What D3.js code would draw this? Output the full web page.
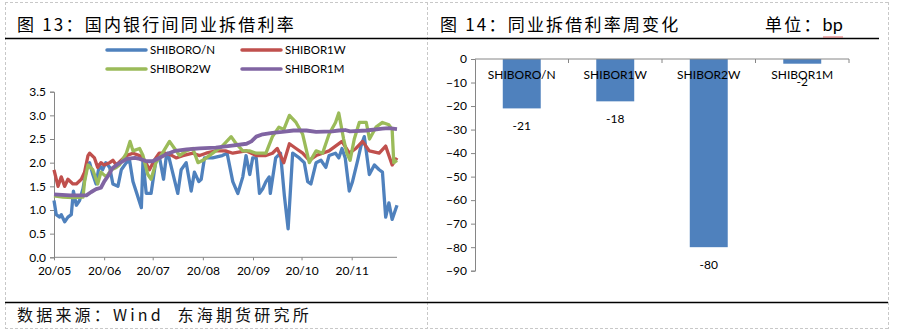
<!DOCTYPE html>
<html><head><meta charset="utf-8">
<script src="https://cdn.jsdelivr.net/npm/d3@7"></script>
<style>
body{margin:0;background:#fff;}
svg{display:block;}
</style></head>
<body>
<svg id="c" width="899" height="335"></svg>
<script>
// ---------- DATA ----------
const startDate = "2020-05-01";
const endDate = "2020-11-29";
const xTickDates = ["2020-05-01","2020-06-01","2020-07-01","2020-08-01","2020-09-01","2020-10-01","2020-11-01"];
const lineNames = ["SHIBORO/N","SHIBOR1W","SHIBOR2W","SHIBOR1M"];
const yTicksLeft = [0,0.5,1,1.5,2,2.5,3,3.5];
// [days since start, value]
const shiborON = [[0,1.2],[1.4,0.9],[3.5,0.85],[4.5,0.9],[6.6,0.75],[8.6,0.85],[10.7,0.9],[12,1.4],[13.8,1.1],[15.8,1.2],[17.9,1.45],[20,1.85],[22,2.0],[24,1.75],[26,1.55],[28,1.95],[30,1.85],[32,2.0],[34.4,1.9],[36.4,1.55],[39.5,1.5],[41.6,1.85],[44.7,2.0],[46.7,2.05],[48.8,1.6],[54,1.05],[55,2.05],[57,1.35],[60,1.35],[63,2.05],[65,2.15],[67.7,1.65],[69.3,2.1],[70.4,2.2],[76.5,1.35],[78.6,1.85],[81.7,2.0],[84.8,1.4],[86.8,1.8],[89.5,1.6],[91,1.65],[93,2.1],[98,2.1],[104,2.15],[107,2.2],[110.5,1.6],[113.6,1.35],[116.7,1.7],[118.7,2.15],[121,1.75],[122.8,2.1],[125,2.1],[127,1.35],[129,1.45],[131,1.6],[133,1.7],[133.7,1.35],[137,2.1],[140,2.2],[142.4,1.3],[144.7,0.6],[147.5,2.2],[151.6,2.1],[154.7,2.0],[156.8,1.6],[158.8,1.55],[162,2.0],[165,2.05],[168,1.9],[170,2.15],[174,2.2],[176,2.1],[178,2.3],[180,2.1],[182.5,1.4],[184.5,1.6],[187.7,2.05],[189.7,2.35],[191.8,2.55],[194.9,1.75],[198,1.95],[201,1.85],[203,1.8],[205,0.85],[207,1.15],[209,0.8],[212,1.1]];
const shibor1W = [[0,1.85],[2.5,1.5],[4.5,1.7],[6.6,1.5],[8.6,1.65],[11.7,1.55],[13.8,1.55],[16.9,1.65],[18.9,1.8],[21,2.15],[22,2.2],[25,2.1],[27,1.9],[29,2.0],[30.9,1.95],[34.4,2.0],[36.4,2.05],[38.5,1.95],[41.6,2.05],[44.7,2.15],[48.8,2.2],[52.9,2.15],[56,2.05],[59,1.85],[62,2.05],[65,2.2],[69,2.2],[73,2.15],[75.5,2.1],[79.6,2.15],[85.8,2.2],[90,2.15],[94,2.2],[100,2.25],[106,2.25],[110.5,2.2],[118.7,2.25],[125,2.15],[131,2.15],[135,2.2],[138,2.3],[142,2.0],[145.5,2.4],[149.6,2.3],[153.7,2.2],[157.8,2.05],[162,2.15],[166,2.2],[170,2.25],[174,2.35],[178,2.45],[182.5,2.2],[186.6,2.3],[190.7,2.45],[194.9,2.25],[201,2.2],[205,2.35],[209,1.95],[212,2.1]];
const shibor2W = [[0,1.3],[5.6,1.27],[11.7,1.26],[17.9,1.27],[18.9,1.6],[21,1.95],[24,1.85],[27,1.55],[29,1.8],[32.3,1.7],[35.4,1.85],[38.5,1.9],[40.5,1.95],[44.7,2.2],[47,2.45],[48.8,2.25],[52.9,2.3],[55,2.15],[58,1.75],[60,1.65],[63,2.0],[67,2.2],[71.4,2.45],[74.5,2.3],[77.6,2.15],[81.7,2.25],[85.8,2.3],[89,2.0],[92,2.05],[96,2.15],[100,2.25],[104,2.35],[109.5,2.55],[112.6,2.4],[116.7,2.25],[120.8,2.25],[125,2.2],[131,2.2],[135,2.55],[139,2.75],[142,2.7],[145.5,3.0],[149.6,2.85],[153.7,2.6],[157.8,2.0],[162,2.25],[166,2.2],[170,2.6],[174,2.85],[176,3.05],[179,2.5],[181,2.2],[183,2.05],[185.6,2.5],[188.7,2.85],[193,2.85],[195,2.5],[199,2.75],[203,2.85],[207,2.8],[209,2.7],[210,2.0],[212,2.05]];
const shibor1M = [[0,1.33],[10,1.31],[20,1.31],[23,1.38],[26,1.44],[29,1.47],[31,1.6],[34,1.75],[36,1.88],[40,1.98],[45,2.08],[50,2.1],[53,2.08],[57,2.03],[61,2.03],[65,2.1],[69,2.17],[75,2.25],[82,2.28],[90,2.3],[100,2.32],[110,2.36],[119,2.4],[122,2.45],[125,2.55],[129,2.6],[135,2.63],[141,2.65],[148,2.68],[156,2.68],[162,2.65],[172,2.66],[176,2.68],[180,2.69],[183,2.66],[193,2.68],[203,2.72],[207,2.73],[212,2.71]];
const lineColors = ["#4F81BD","#C0504D","#9BBB59","#8064A2"];

const barCategories = ["SHIBORO/N","SHIBOR1W","SHIBOR2W","SHIBOR1M"];
const barValues = [-21,-18,-80,-2];
const yTicksRight = [0,-10,-20,-30,-40,-50,-60,-70,-80,-90];

const title1 = "图 13：国内银行间同业拆借利率";
const title2 = "图 14：同业拆借利率周变化";
const unitText = "单位：";
const unitBp = "bp";
const sourceText = "数据来源：Wind  东海期货研究所";

// ---------- DRAW ----------
const svg = d3.select("#c");
const CJK = "'Noto Sans CJK SC', sans-serif";
const LAT = "Lato, 'Liberation Sans', sans-serif";
const AX = "#868686";

// panel borders (dashed)
const dash = svg.append("g").attr("stroke","#c8c8c8").attr("stroke-dasharray","3,2").attr("fill","none");
dash.append("line").attr("x1",5).attr("x2",888).attr("y1",2.5).attr("y2",2.5);
dash.append("line").attr("x1",5).attr("x2",888).attr("y1",328.5).attr("y2",328.5);
[5.5,427.5,888.5].forEach(x=>dash.append("line").attr("x1",x).attr("x2",x).attr("y1",2).attr("y2",329));

// solid black rules
svg.append("line").attr("x1",5).attr("x2",879).attr("y1",38.5).attr("y2",38.5).attr("stroke","#000").attr("stroke-width",1.3);
svg.append("line").attr("x1",5).attr("x2",888).attr("y1",302.5).attr("y2",302.5).attr("stroke","#000").attr("stroke-width",1.3);

// titles
svg.append("text").attr("x",17).attr("y",31).attr("font-family",CJK).attr("font-size",17).attr("letter-spacing",2.2).attr("fill","#000").text(title1);
svg.append("text").attr("x",440).attr("y",31).attr("font-family",CJK).attr("font-size",17).attr("letter-spacing",2.2).attr("fill","#000").text(title2);
const ut = svg.append("text").attr("x",765).attr("y",31).attr("font-family",CJK).attr("font-size",17).attr("letter-spacing",2.2).attr("fill","#000");
ut.append("tspan").text(unitText);
ut.append("tspan").attr("font-family",LAT).attr("letter-spacing",0).attr("font-size",18).text(unitBp);
// spell-check squiggle under bp
(function(){
  const pts=[]; for(let x=823;x<=844;x+=2){pts.push([x,(x/2)%2===0?35:37]);}
  svg.append("path").attr("d",d3.line()(pts)).attr("stroke","#d04040").attr("stroke-width",0.8).attr("fill","none");
})();

// source
svg.append("text").attr("x",17).attr("y",321).attr("font-family",CJK).attr("font-size",16).attr("letter-spacing",3.2).attr("fill","#111").style("white-space","pre").text(sourceText);

// ---------- LEFT LINE CHART ----------
const parse = d3.timeParse("%Y-%m-%d");
const t0 = parse(startDate), t1 = parse(endDate);
const x = d3.scaleTime().domain([t0,t1]).range([54,397]);
const y = d3.scaleLinear().domain([0,3.5]).range([257.3,91.7]);
const toDate = d => new Date(t0.getTime()+d*864e5);

const gy = svg.append("g").attr("transform","translate(54,0)")
  .call(d3.axisLeft(y).tickValues(yTicksLeft).tickFormat(d3.format(".1f")).tickSize(4).tickPadding(4));
const gx = svg.append("g").attr("transform","translate(0,257.3)")
  .call(d3.axisBottom(x).tickValues(xTickDates.map(parse)).tickFormat(d3.timeFormat("%y/%m")).tickSize(3).tickPadding(6));
[gy,gx].forEach(g=>{
  g.select(".domain").attr("stroke",AX);
  g.selectAll(".tick line").attr("stroke",AX);
  g.selectAll("text").attr("font-family",LAT).attr("font-size",12).attr("fill","#000");
});
gx.select(".domain").attr("d","M54,0H397");

const series = [shiborON, shibor1W, shibor2W, shibor1M];
const line = d3.line().x(d=>x(toDate(d[0]))).y(d=>y(d[1]));
[0,1,2,3].forEach(i=>{
  svg.append("path").datum(series[i]).attr("d",line).attr("fill","none")
    .attr("stroke",lineColors[i]).attr("stroke-width",i===3?3.8:3.3).attr("stroke-linejoin","round");
});

// legend
const legPos = [[107,50],[242,50],[107,69],[242,69]];
lineNames.forEach((n,i)=>{
  const [lx,ly]=legPos[i];
  svg.append("line").attr("x1",lx).attr("x2",lx+39).attr("y1",ly).attr("y2",ly)
    .attr("stroke",lineColors[i]).attr("stroke-width",3.5).attr("stroke-linecap","round");
  svg.append("text").attr("x",lx+43).attr("y",ly+4).attr("font-family",LAT).attr("font-size",11.5).attr("fill","#000").text(n);
});

// ---------- RIGHT BAR CHART ----------
const yb = d3.scaleLinear().domain([-90,0]).range([270.7,59]);
const xb = d3.scaleBand().domain(barCategories).range([475,849]).paddingInner(0.594).paddingOuter(0.297);

svg.append("g").selectAll("rect").data(barValues).join("rect")
  .attr("x",(d,i)=>xb(barCategories[i])).attr("width",xb.bandwidth())
  .attr("y",yb(0)).attr("height",d=>yb(d)-yb(0)).attr("fill","#4F81BD");

const gyb = svg.append("g").attr("transform","translate(475,0)")
  .call(d3.axisLeft(yb).tickValues(yTicksRight).tickFormat(d3.format("d")).tickSize(4).tickPadding(4));
gyb.select(".domain").attr("stroke",AX);
gyb.selectAll(".tick line").attr("stroke",AX);
gyb.selectAll("text").attr("font-family",LAT).attr("font-size",12).attr("fill","#000");

// top horizontal axis with boundary ticks
const step = xb.step();
svg.append("line").attr("x1",475).attr("x2",849).attr("y1",yb(0)).attr("y2",yb(0)).attr("stroke",AX);
barCategories.forEach((c,i)=>{
  const bx = 475 + step*(i+1);
  svg.append("line").attr("x1",bx).attr("x2",bx).attr("y1",yb(0)).attr("y2",yb(0)+4).attr("stroke",AX);
  svg.append("text").attr("x",xb(c)+xb.bandwidth()/2).attr("y",79).attr("text-anchor","middle")
    .attr("font-family",LAT).attr("font-size",12).attr("fill","#000").text(c);
});
// value labels
barValues.forEach((v,i)=>{
  svg.append("text").attr("x",xb(barCategories[i])+xb.bandwidth()/2).attr("y",yb(v)+22).attr("text-anchor","middle")
    .attr("font-family",LAT).attr("font-size",12).attr("fill","#000").text(v);
});
</script>
</body></html>
